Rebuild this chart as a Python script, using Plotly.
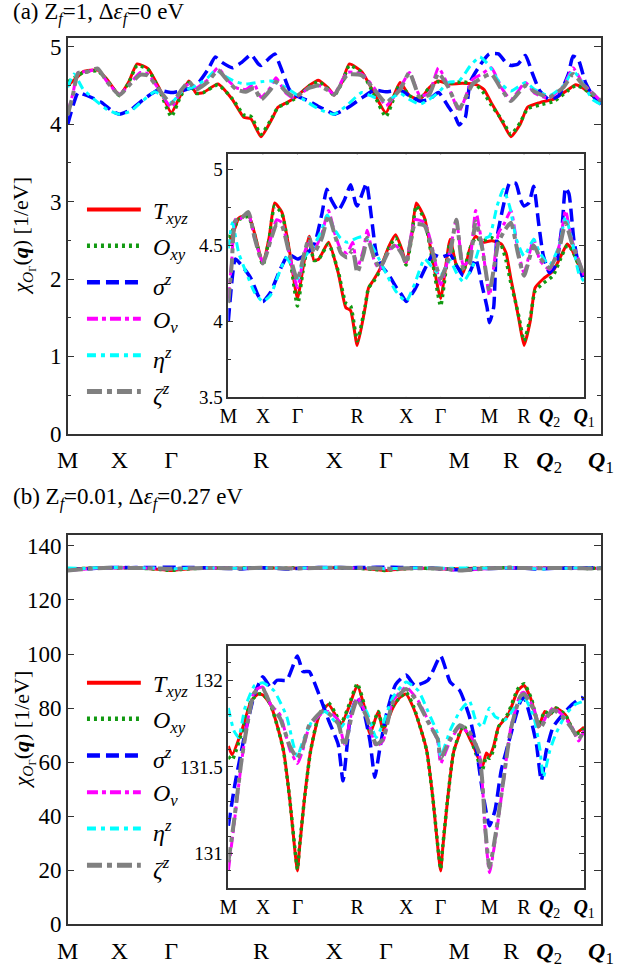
import plotly.graph_objects as go

# ---------------- symmetry points ----------------
K_SYM = [0, 0.5, 1.0, 1.866, 2.573, 3.073, 3.78, 4.28, 4.65, 5.15]
SYM_LABELS = ['M', 'X', 'Γ', 'R', 'X', 'Γ', 'M', 'R',
              '<b><i>Q</i></b><sub>2</sub>', '<b><i>Q</i></b><sub>1</sub>']
VLINES_A = [0.5, 1.0, 1.866, 2.573, 3.073, 3.78, 4.28, 4.65]
VLINES_B = [0.5, 1.0, 1.866, 2.573, 3.073, 3.78]

# ---------------- panel (a) data ----------------
a_k_T = [0, 0.10, 0.15, 0.29, 0.38, 0.5, 0.59, 0.67, 0.775, 0.89, 1.0, 1.08, 1.17, 1.24, 1.31,
         1.45, 1.59, 1.70, 1.77, 1.866, 1.98, 2.03, 2.10, 2.19, 2.33, 2.42, 2.515, 2.573, 2.65, 2.72,
         2.84, 2.96, 3.073, 3.21, 3.30, 3.40, 3.49, 3.58, 3.68, 3.81, 3.95, 4.02, 4.09, 4.16, 4.21,
         4.28, 4.37, 4.44, 4.56, 4.70, 4.835, 4.905, 4.975, 5.07, 5.15]
a_y_T = [4.50, 4.62, 4.68, 4.70, 4.58, 4.38, 4.55, 4.78, 4.72, 4.45, 4.15, 4.35, 4.56, 4.40, 4.41,
         4.52, 4.32, 4.09, 4.07, 3.84, 4.09, 4.22, 4.27, 4.34, 4.50, 4.57, 4.47, 4.38, 4.55, 4.78,
         4.68, 4.40, 4.15, 4.54, 4.37, 4.32, 4.47, 4.56, 4.52, 4.53, 4.51, 4.45, 4.28, 4.12, 4.00,
         3.84, 4.00, 4.22, 4.28, 4.33, 4.45, 4.51, 4.47, 4.37, 4.30]
a_k_O = a_k_T
a_y_O = [4.55, 4.63, 4.67, 4.69, 4.57, 4.37, 4.54, 4.76, 4.71, 4.43, 4.10, 4.33, 4.54, 4.40, 4.41,
         4.51, 4.33, 4.12, 4.10, 3.87, 4.10, 4.22, 4.26, 4.33, 4.49, 4.55, 4.46, 4.37, 4.54, 4.76,
         4.67, 4.38, 4.10, 4.52, 4.37, 4.33, 4.47, 4.55, 4.53, 4.55, 4.50, 4.40, 4.25, 4.12, 4.02,
         3.87, 4.02, 4.20, 4.25, 4.30, 4.44, 4.50, 4.47, 4.37, 4.30]
a_k_S = [0, 0.10, 0.15, 0.24, 0.33, 0.43, 0.5, 0.61, 0.75, 0.87, 1.0, 1.12, 1.24, 1.355, 1.425,
         1.49, 1.59, 1.68, 1.77, 1.84, 1.866, 1.96, 2.0, 2.07, 2.14, 2.21, 2.33, 2.42, 2.515, 2.573,
         2.70, 2.84, 2.96, 3.073, 3.21, 3.30, 3.40, 3.49, 3.58, 3.675, 3.745, 3.78, 3.84, 3.885, 3.98,
         4.07, 4.16, 4.23, 4.28, 4.35, 4.42, 4.49, 4.56, 4.65, 4.74, 4.835, 4.88, 4.93, 5.0, 5.07, 5.15]
a_y_S = [4.00, 4.41, 4.39, 4.34, 4.28, 4.17, 4.13, 4.19, 4.34, 4.44, 4.41, 4.44, 4.50, 4.71, 4.87,
         4.80, 4.73, 4.80, 4.90, 4.78, 4.76, 4.87, 4.91, 4.69, 4.45, 4.37, 4.30, 4.23, 4.17, 4.13,
         4.21, 4.34, 4.44, 4.42, 4.44, 4.37, 4.30, 4.32, 4.41, 4.23, 4.09, 3.99, 4.09, 4.54, 4.76,
         4.91, 4.91, 4.80, 4.76, 4.78, 4.89, 4.65, 4.43, 4.32, 4.37, 4.65, 4.88, 4.84, 4.54, 4.37, 4.26]
a_k_V = [0, 0.05, 0.10, 0.19, 0.29, 0.38, 0.5, 0.61, 0.70, 0.775, 0.87, 1.0, 1.10, 1.17, 1.24,
         1.355, 1.45, 1.54, 1.63, 1.72, 1.80, 1.866, 1.96, 2.01, 2.11, 2.19, 2.33, 2.42, 2.515, 2.573,
         2.70, 2.84, 2.96, 3.073, 3.21, 3.30, 3.40, 3.49, 3.58, 3.675, 3.78, 3.91, 4.0, 4.09, 4.19,
         4.28, 4.42, 4.51, 4.65, 4.79, 4.88, 4.97, 5.15]
a_y_V = [4.15, 4.40, 4.67, 4.68, 4.71, 4.55, 4.39, 4.54, 4.67, 4.65, 4.47, 4.22, 4.45, 4.52, 4.47,
         4.58, 4.73, 4.58, 4.47, 4.45, 4.52, 4.35, 4.48, 4.60, 4.40, 4.34, 4.47, 4.50, 4.45, 4.39,
         4.67, 4.65, 4.47, 4.24, 4.47, 4.67, 4.37, 4.40, 4.73, 4.50, 4.17, 4.58, 4.65, 4.73, 4.47,
         4.32, 4.54, 4.40, 4.34, 4.50, 4.73, 4.54, 4.30]
a_k_E = [0, 0.06, 0.15, 0.25, 0.38, 0.5, 0.61, 0.72, 0.84, 0.92, 1.0, 1.10, 1.24, 1.35, 1.43,
         1.52, 1.62, 1.72, 1.866, 1.97, 2.07, 2.17, 2.30, 2.42, 2.573, 2.70, 2.84, 2.96, 3.073, 3.21,
         3.30, 3.40, 3.49, 3.58, 3.675, 3.78, 3.89, 3.98, 4.07, 4.17, 4.28, 4.42, 4.51, 4.65, 4.79,
         4.88, 4.97, 5.07, 5.15]
a_y_E = [4.48, 4.65, 4.45, 4.33, 4.19, 4.13, 4.17, 4.30, 4.42, 4.36, 4.28, 4.42, 4.50, 4.60, 4.70,
         4.62, 4.55, 4.52, 4.55, 4.56, 4.50, 4.42, 4.30, 4.20, 4.13, 4.25, 4.41, 4.35, 4.30, 4.40,
         4.32, 4.26, 4.32, 4.41, 4.54, 4.56, 4.76, 4.87, 4.76, 4.54, 4.43, 4.54, 4.45, 4.37, 4.50,
         4.69, 4.54, 4.32, 4.26]
a_k_Z = a_k_V
a_y_Z = [4.12, 4.38, 4.66, 4.68, 4.72, 4.55, 4.38, 4.53, 4.64, 4.63, 4.47, 4.27, 4.45, 4.55, 4.45,
         4.55, 4.70, 4.57, 4.45, 4.42, 4.47, 4.32, 4.45, 4.55, 4.42, 4.35, 4.47, 4.50, 4.44, 4.38,
         4.64, 4.63, 4.45, 4.28, 4.45, 4.67, 4.35, 4.38, 4.66, 4.48, 4.20, 4.52, 4.60, 4.65, 4.45,
         4.30, 4.50, 4.42, 4.35, 4.48, 4.65, 4.52, 4.30]

# ---------------- panel (b) data ----------------
b_k_T = [0, 0.055, 0.195, 0.33, 0.43, 0.5, 0.61, 0.72, 0.80, 0.89, 0.96, 1.0, 1.03, 1.10, 1.19,
         1.31, 1.45, 1.55, 1.63, 1.75, 1.866, 1.96, 2.05, 2.17, 2.24, 2.38, 2.48, 2.573, 2.68, 2.80,
         2.873, 2.963, 3.033, 3.073, 3.103, 3.173, 3.263, 3.40, 3.51, 3.58, 3.675, 3.735, 3.78, 3.84,
         3.91, 4.05, 4.19, 4.28, 4.39, 4.49, 4.58, 4.65, 4.74, 4.88, 5.02, 5.09, 5.15]
b_y_T = [131.62, 131.57, 131.71, 131.88, 131.92, 131.915, 131.86, 131.72, 131.59, 131.31,
         131.03, 130.90, 131.03, 131.31, 131.59, 131.79, 131.86, 131.80, 131.74, 131.85,
         131.97, 131.86, 131.69, 131.82, 131.71, 131.84, 131.90, 131.92, 131.84, 131.70,
         131.59, 131.31, 131.03, 130.90, 131.03, 131.31, 131.59, 131.73, 131.65, 131.59,
         131.50, 131.58, 131.56, 131.62, 131.73, 131.80, 131.94, 131.97, 131.88, 131.73,
         131.82, 131.80, 131.84, 131.80, 131.69, 131.71, 131.73]
b_k_O = b_k_T
b_y_O = [131.56, 131.54, 131.70, 131.88, 131.92, 131.92, 131.86, 131.72, 131.59, 131.31,
         131.04, 130.91, 131.04, 131.31, 131.59, 131.80, 131.87, 131.81, 131.75, 131.86,
         131.98, 131.87, 131.70, 131.82, 131.72, 131.85, 131.90, 131.93, 131.85, 131.70,
         131.59, 131.31, 131.04, 130.91, 131.04, 131.31, 131.59, 131.74, 131.66, 131.58,
         131.48, 131.56, 131.55, 131.60, 131.73, 131.81, 131.95, 131.98, 131.89, 131.74,
         131.82, 131.80, 131.84, 131.80, 131.69, 131.70, 131.72]
b_k_S = [0, 0.10, 0.24, 0.38, 0.5, 0.61, 0.705, 0.845, 1.0, 1.08, 1.17, 1.31, 1.45, 1.59, 1.66,
         1.77, 1.866, 1.96, 2.05, 2.12, 2.19, 2.28, 2.42, 2.573, 2.70, 2.89, 3.073, 3.21, 3.35, 3.49,
         3.58, 3.675, 3.78, 3.86, 3.95, 4.09, 4.23, 4.28, 4.37, 4.46, 4.53, 4.60, 4.70, 4.835, 4.975,
         5.11, 5.15]
b_y_S = [131.16, 131.41, 131.69, 131.92, 132.02, 131.96, 132.00, 132.00, 132.14, 132.05,
         132.05, 131.92, 131.77, 131.63, 131.42, 131.80, 131.90, 131.82, 131.65, 131.44,
         131.60, 131.79, 131.975, 132.03, 131.97, 132.00, 132.14, 131.99, 131.94, 131.79,
         131.63, 131.37, 131.16, 131.25, 131.48, 131.69, 131.88, 131.90, 131.79, 131.63,
         131.42, 131.59, 131.73, 131.80, 131.86, 131.90, 131.89]
b_k_V = [0, 0.08, 0.195, 0.29, 0.38, 0.5, 0.61, 0.75, 0.89, 1.0, 1.08, 1.17, 1.355, 1.45, 1.59,
         1.68, 1.80, 1.866, 2.0, 2.14, 2.24, 2.38, 2.573, 2.75, 2.89, 3.03, 3.073, 3.21, 3.35, 3.49,
         3.63, 3.675, 3.72, 3.78, 3.88, 3.98, 4.09, 4.23, 4.28, 4.42, 4.51, 4.60, 4.70, 4.835, 4.975,
         5.07, 5.15]
b_y_V = [130.90, 131.16, 131.54, 131.79, 131.94, 131.96, 131.86, 131.80, 131.60, 131.52,
         131.60, 131.73, 131.81, 131.82, 131.77, 131.63, 131.84, 131.90, 131.80, 131.62,
         131.65, 131.88, 131.96, 131.88, 131.77, 131.65, 131.52, 131.65, 131.73, 131.69,
         131.58, 131.41, 131.12, 130.89, 131.12, 131.41, 131.73, 131.92, 131.93, 131.84,
         131.73, 131.79, 131.84, 131.80, 131.73, 131.65, 131.71]
b_k_E = [0, 0.08, 0.15, 0.24, 0.38, 0.5, 0.66, 0.845, 0.94, 1.0, 1.08, 1.22, 1.40, 1.63, 1.77,
         1.866, 2.0, 2.14, 2.24, 2.38, 2.573, 2.75, 2.89, 3.03, 3.073, 3.21, 3.35, 3.49, 3.58, 3.675,
         3.78, 3.86, 4.0, 4.14, 4.28, 4.42, 4.51, 4.56, 4.65, 4.74, 4.88, 5.02, 5.15]
b_y_E = [131.84, 131.71, 131.67, 131.84, 131.97, 131.985, 131.94, 131.79, 131.63, 131.56,
         131.65, 131.77, 131.82, 131.73, 131.82, 131.88, 131.82, 131.67, 131.75, 131.90,
         131.99, 131.94, 131.82, 131.69, 131.56, 131.71, 131.82, 131.88, 131.77, 131.73,
         131.84, 131.79, 131.77, 131.84, 131.90, 131.79, 131.60, 131.44, 131.59, 131.69,
         131.80, 131.86, 131.88]
b_k_Z = b_k_V
b_y_Z = [130.95, 131.18, 131.55, 131.78, 131.93, 131.95, 131.86, 131.78, 131.62, 131.55,
         131.62, 131.74, 131.82, 131.81, 131.75, 131.62, 131.82, 131.89, 131.79, 131.63,
         131.66, 131.87, 131.95, 131.87, 131.76, 131.66, 131.55, 131.66, 131.74, 131.70,
         131.58, 131.42, 131.14, 130.92, 131.14, 131.42, 131.72, 131.91, 131.92, 131.83,
         131.72, 131.78, 131.83, 131.79, 131.72, 131.66, 131.71]

SERIES_NAMES = ['<i>T</i><sub><i>xyz</i></sub>', '<i>O</i><sub><i>xy</i></sub>',
                '<i>σ</i><sup><i>z</i></sup>', '<i>O</i><sub><i>v</i></sub>',
                '<i>η</i><sup><i>z</i></sup>', '<i>ζ</i><sup><i>z</i></sup>']
COLORS = ['#ff0000', '#129a12', '#0000ff', '#ff00ff', '#00ffff', '#808080']
DASHES = ['solid', '3px,4px', '13px,6px', '11px,4px,4px,4px', '9px,5px,4px,5px', '15px,5px,5px,5px']
WIDTHS = [3, 3.5, 3.5, 3, 3, 4]

PANEL_A = [(a_k_T, a_y_T), (a_k_O, a_y_O), (a_k_S, a_y_S), (a_k_V, a_y_V), (a_k_E, a_y_E), (a_k_Z, a_y_Z)]
PANEL_B = [(b_k_T, b_y_T), (b_k_O, b_y_O), (b_k_S, b_y_S), (b_k_V, b_y_V), (b_k_E, b_y_E), (b_k_Z, b_y_Z)]

FONT = 'Liberation Serif, Times New Roman, serif'
W, H = 626, 975


def px(x):
    return x / W


def py(y):
    return 1 - y / H


fig = go.Figure()

for panel, axes in ((PANEL_A, [('x', 'y'), ('x2', 'y2')]), (PANEL_B, [('x3', 'y3'), ('x4', 'y4')])):
    for xa, ya in axes:
        for i, (k, v) in enumerate(panel):
            fig.add_trace(go.Scatter(
                x=k, y=v, mode='lines', xaxis=xa, yaxis=ya, showlegend=False,
                line=dict(color=COLORS[i], width=WIDTHS[i], dash=DASHES[i], shape='spline', smoothing=0.5),
                hoverinfo='skip'))

axis_line = dict(showline=True, linecolor='#333333', linewidth=1.5, mirror='ticks',
                 showgrid=False, zeroline=False, tickcolor='#333333')

main_x = dict(axis_line, range=[0, 5.15], tickvals=K_SYM, ticktext=SYM_LABELS, ticks='',
              tickfont=dict(family=FONT, size=24, color='black'), ticklabelstandoff=4)
inset_x = dict(axis_line, range=[0, 5.15], tickvals=K_SYM, ticktext=SYM_LABELS, ticks='',
               tickfont=dict(family=FONT, size=20, color='black'))

fig.update_layout(
    width=W, height=H, margin=dict(l=0, r=0, t=0, b=0),
    paper_bgcolor='white', plot_bgcolor='white',
    xaxis=dict(main_x, domain=[px(59), px(613.5)], anchor='y'),
    yaxis=dict(axis_line, domain=[py(438), py(36)], anchor='x', range=[0, 5.11],
               tickvals=[0, 1, 2, 3, 4, 5], ticks='inside', ticklen=7,
               minor=dict(dtick=0.5, ticks='inside', ticklen=4, tickcolor='#333333'),
               tickfont=dict(family=FONT, size=23, color='black')),
    xaxis2=dict(inset_x, domain=[px(226), px(596)], anchor='y2'),
    yaxis2=dict(axis_line, domain=[py(400.5), py(154)], anchor='x2', range=[3.5, 5.1],
                tickvals=[3.5, 4, 4.5, 5], ticktext=['3.5', '4', '4.5', '5'], ticks='inside', ticklen=5,
                minor=dict(dtick=0.25, ticks='inside', ticklen=3, tickcolor='#333333'),
                tickfont=dict(family=FONT, size=19, color='black')),
    xaxis3=dict(main_x, domain=[px(59), px(613.5)], anchor='y3'),
    yaxis3=dict(axis_line, domain=[py(936.7), py(541)], anchor='x3', range=[0, 144],
                tickvals=[0, 20, 40, 60, 80, 100, 120, 140], ticks='inside', ticklen=7,
                tickfont=dict(family=FONT, size=23, color='black')),
    xaxis4=dict(inset_x, domain=[px(226), px(596)], anchor='y4'),
    yaxis4=dict(axis_line, domain=[py(900), py(653.3)], anchor='x4', range=[130.8, 132.2],
                tickvals=[131, 131.5, 132], ticktext=['131', '131.5', '132'], ticks='inside', ticklen=5,
                minor=dict(dtick=0.1, ticks='inside', ticklen=3, tickcolor='#333333'),
                tickfont=dict(family=FONT, size=19, color='black')),
)

shapes = []
for xa, ya, vl in (('x2', 'y2', VLINES_A), ('x4', 'y4', VLINES_B)):
    for k in vl:
        shapes.append(dict(type='line', xref=xa, yref=ya + ' domain', x0=k, x1=k, y0=0, y1=1,
                           line=dict(color='black', width=1, dash='3px,3px'), layer='below'))

annotations = []
LEG_Y = {'a': [210, 246.7, 284, 321, 358, 395], 'b': [691, 727.7, 765, 802.3, 839.3, 876.7]}
for key in ('a', 'b'):
    for i, yy in enumerate(LEG_Y[key]):
        shapes.append(dict(type='line', xref='paper', yref='paper', x0=px(79), x1=px(135),
                           y0=py(yy), y1=py(yy),
                           line=dict(color=COLORS[i], width=WIDTHS[i] + 1, dash=DASHES[i])))
        annotations.append(dict(xref='paper', yref='paper', x=px(146), y=py(yy + 3), xanchor='left',
                                yanchor='middle', showarrow=False, text=SERIES_NAMES[i],
                                font=dict(family=FONT, size=24, color='black')))

ytitle = '<i>χ</i><sub><i>O</i><sub>Γ</sub></sub>(<b><i>q</i></b>) [1/eV]'
for yc in (237, 739):
    annotations.append(dict(xref='paper', yref='paper', x=px(13), y=py(yc), textangle=-90,
                            showarrow=False, text=ytitle, xanchor='center', yanchor='middle',
                            font=dict(family=FONT, size=22, color='black')))

annotations.append(dict(xref='paper', yref='paper', x=0, y=py(11), xanchor='left', yanchor='middle',
                        showarrow=False, text='(a) Z<sub><i>f</i></sub>=1, Δ<i>ε<sub>f</sub></i>=0 eV',
                        font=dict(family=FONT, size=23, color='black')))
annotations.append(dict(xref='paper', yref='paper', x=0, y=py(504), xanchor='left', yanchor='middle',
                        showarrow=False, text='(b) Z<sub><i>f</i></sub>=0.01, Δ<i>ε<sub>f</sub></i>=0.27 eV',
                        font=dict(family=FONT, size=23, color='black')))

fig.update_layout(shapes=shapes, annotations=annotations)
fig.write_html('out.html')
